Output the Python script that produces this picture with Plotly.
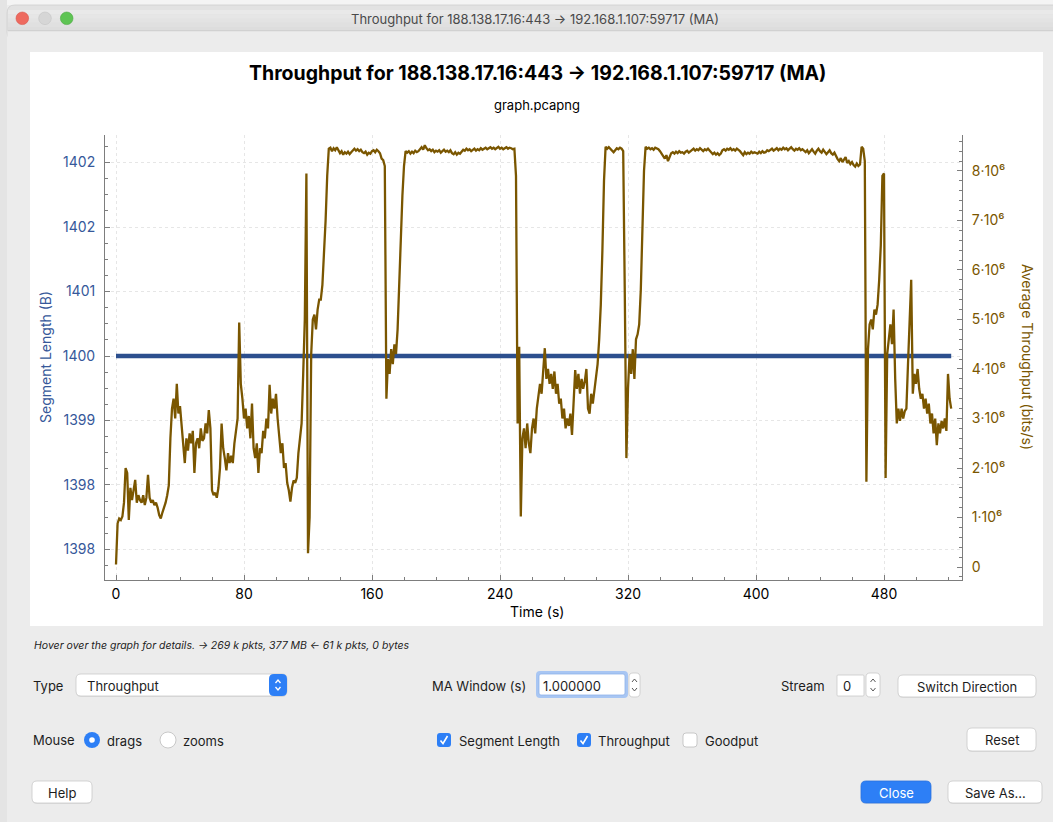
import plotly.graph_objects as go

# ---------------------------------------------------------------------------
# Data: moving-average throughput (Mbit/s, one sample per second) and
# segment length (bytes) for the TCP stream 188.138.17.16:443 -> 192.168.1.107:59717
# ---------------------------------------------------------------------------
time_s = list(range(0, 523))

throughput_mbps = [
    0.05, 0.88, 0.98, 0.95, 1.02, 1.30, 2.00, 1.90, 0.95, 1.60,
    1.35, 1.55, 1.76, 1.30, 1.45, 1.35, 1.30, 1.45, 1.25, 1.40,
    1.86, 1.40, 1.30, 1.35, 1.25, 1.30, 1.20, 1.05, 0.98, 1.10,
    1.20, 1.30, 1.45, 1.65, 2.60, 3.20, 3.40, 3.00, 3.70, 3.10,
    3.25, 2.90, 2.40, 2.10, 2.60, 2.35, 2.70, 2.50, 2.75, 1.90,
    2.50, 2.60, 2.40, 2.80, 2.55, 2.60, 2.90, 2.70, 3.17, 2.80,
    1.55, 1.45, 1.50, 1.40, 1.60, 2.00, 2.90, 2.40, 2.20, 1.95,
    2.30, 2.10, 2.25, 2.10, 2.50, 2.77, 3.00, 4.94, 3.70, 3.40,
    3.00, 3.20, 2.80, 3.05, 2.60, 3.30, 2.40, 2.20, 2.50, 1.90,
    2.40, 2.30, 2.75, 2.60, 3.00, 2.80, 3.68, 3.10, 3.40, 3.20,
    3.50, 3.00, 2.60, 2.30, 2.50, 2.00, 2.10, 1.70, 1.55, 1.32,
    1.60, 1.75, 1.70, 1.80, 2.30, 2.60, 2.90, 3.90, 5.00, 7.95,
    0.28, 1.00, 4.30, 5.00, 5.10, 4.80, 5.20, 5.40, 5.40, 5.70,
    6.30, 7.00, 7.90, 8.45, 8.47, 8.40, 8.46, 8.42, 8.48, 8.41,
    8.36, 8.40, 8.33, 8.38, 8.35, 8.39, 8.34, 8.38, 8.42, 8.45,
    8.41, 8.44, 8.40, 8.43, 8.38, 8.36, 8.39, 8.33, 8.37, 8.35,
    8.40, 8.42, 8.38, 8.43, 8.40, 8.36, 8.25, 8.22, 8.10, 3.40,
    4.20, 3.90, 4.40, 4.10, 4.50, 4.30, 4.80, 5.90, 6.60, 7.50,
    8.10, 8.40, 8.37, 8.40, 8.35, 8.39, 8.36, 8.41, 8.38, 8.40,
    8.45, 8.48, 8.43, 8.52, 8.46, 8.42, 8.44, 8.40, 8.43, 8.38,
    8.41, 8.39, 8.42, 8.37, 8.40, 8.43, 8.39, 8.41, 8.38, 8.42,
    8.36, 8.34, 8.38, 8.33, 8.37, 8.35, 8.39, 8.43, 8.41, 8.45,
    8.42, 8.44, 8.40, 8.43, 8.45, 8.41, 8.44, 8.42, 8.46, 8.43,
    8.45, 8.47, 8.44, 8.46, 8.48, 8.45, 8.47, 8.44, 8.46, 8.49,
    8.45, 8.47, 8.44, 8.46, 8.48, 8.45, 8.47, 8.46, 8.44, 8.45,
    7.90, 2.90, 4.45, 1.02, 2.60, 2.80, 2.40, 2.90, 2.50, 2.30,
    2.80, 3.00, 2.70, 3.20, 3.50, 3.70, 3.50, 4.00, 4.42, 3.80,
    4.00, 3.70, 3.90, 3.60, 3.95, 3.50, 3.70, 3.30, 3.40, 3.00,
    3.20, 2.80, 3.00, 2.85, 3.10, 2.67, 3.30, 3.98, 3.60, 3.90,
    3.50, 3.80, 3.60, 3.75, 4.00, 3.20, 3.10, 3.50, 3.30, 3.60,
    3.80, 4.10, 4.60, 5.30, 6.40, 7.80, 8.49, 8.45, 8.48, 8.44,
    8.40, 8.38, 8.42, 8.46, 8.44, 8.47, 8.45, 8.40, 5.50, 2.20,
    3.60, 4.30, 3.90, 4.40, 3.80, 4.60, 4.70, 4.90, 5.60, 7.00,
    8.00, 8.49, 8.45, 8.47, 8.44, 8.46, 8.43, 8.47, 8.45, 8.44,
    8.40, 8.35, 8.30, 8.25, 8.32, 8.20, 8.28, 8.36, 8.38, 8.35,
    8.39, 8.36, 8.40, 8.37, 8.38, 8.35, 8.39, 8.41, 8.37, 8.40,
    8.43, 8.45, 8.41, 8.44, 8.42, 8.46, 8.43, 8.40, 8.44, 8.42,
    8.45, 8.41, 8.38, 8.34, 8.37, 8.33, 8.36, 8.32, 8.35, 8.42,
    8.44, 8.41, 8.45, 8.43, 8.46, 8.42, 8.44, 8.41, 8.45, 8.43,
    8.40, 8.36, 8.32, 8.38, 8.34, 8.37, 8.35, 8.39, 8.36, 8.38,
    8.37, 8.35, 8.39, 8.36, 8.40, 8.37, 8.38, 8.42, 8.40, 8.43,
    8.45, 8.41, 8.44, 8.46, 8.42, 8.45, 8.43, 8.47, 8.44, 8.46,
    8.42, 8.45, 8.48, 8.44, 8.41, 8.45, 8.43, 8.46, 8.42, 8.44,
    8.41, 8.38, 8.42, 8.36, 8.40, 8.44, 8.39, 8.35, 8.41, 8.45,
    8.40, 8.37, 8.43, 8.39, 8.34, 8.38, 8.42, 8.36, 8.33, 8.37,
    8.30, 8.24, 8.20, 8.26, 8.18, 8.22, 8.28, 8.16, 8.20, 8.14,
    8.18, 8.12, 8.09, 8.15, 8.10, 8.13, 8.49, 8.45, 8.20, 1.72,
    4.40, 4.90, 5.00, 4.80, 5.20, 5.10, 5.30, 5.80, 6.50, 7.90,
    7.95, 1.80, 4.30, 4.60, 4.90, 4.50, 5.20, 3.80, 2.90, 3.20,
    2.95, 3.20, 3.00, 3.15, 3.20, 4.10, 5.00, 5.80, 3.50, 3.90,
    3.70, 4.00, 3.60, 3.40, 3.50, 3.20, 3.40, 3.10, 3.30, 2.90,
    3.10, 2.70, 3.00, 2.46, 2.90, 2.70, 2.95, 2.80, 3.00, 2.75,
    3.90, 3.40, 3.20,
]
throughput_bps = [v * 1e6 for v in throughput_mbps]

segment_length = [1400] * len(time_s)

x_ticks = [0, 80, 160, 240, 320, 400, 480]
rate_ticks = [0, 1e6, 2e6, 3e6, 4e6, 5e6, 6e6, 7e6, 8e6]
rate_tick_text = ["0"] + [f"{int(v / 1e6)}·10⁶" for v in rate_ticks[1:]]

# ---------------------------------------------------------------------------
# Page geometry helpers (pixel -> paper fraction)
# ---------------------------------------------------------------------------
W, H = 1053, 822
FONT = "Inter, Roboto, 'Noto Sans', sans-serif"
SEG_BLUE = "#2c4f8e"
THR_BROWN = "#7a5600"
LABEL_BLUE = "#36589a"


def fx(x):
    return x / W


def fy(y):
    return 1 - y / H


def pt(x, y):
    return f"{fx(x):.5f},{fy(y):.5f}"


shapes = []
annotations = []


def rect(x0, y0, x1, y1, fill, line="rgba(0,0,0,0)", lw=0):
    shapes.append(dict(type="rect", xref="paper", yref="paper",
                       x0=fx(x0), x1=fx(x1), y0=fy(y1), y1=fy(y0),
                       fillcolor=fill, line=dict(color=line, width=lw),
                       layer="below"))


def rrect(x0, y0, x1, y1, r, fill, line="rgba(0,0,0,0)", lw=0, layer="above"):
    p = (f"M {pt(x0 + r, y0)} L {pt(x1 - r, y0)} Q {pt(x1, y0)} {pt(x1, y0 + r)} "
         f"L {pt(x1, y1 - r)} Q {pt(x1, y1)} {pt(x1 - r, y1)} "
         f"L {pt(x0 + r, y1)} Q {pt(x0, y1)} {pt(x0, y1 - r)} "
         f"L {pt(x0, y0 + r)} Q {pt(x0, y0)} {pt(x0 + r, y0)} Z")
    shapes.append(dict(type="path", xref="paper", yref="paper", path=p,
                       fillcolor=fill, line=dict(color=line, width=lw), layer=layer))


def circle(cx, cy, r, fill, line="rgba(0,0,0,0)", lw=0):
    shapes.append(dict(type="circle", xref="paper", yref="paper",
                       x0=fx(cx - r), x1=fx(cx + r), y0=fy(cy + r), y1=fy(cy - r),
                       fillcolor=fill, line=dict(color=line, width=lw), layer="above"))


def polyline(points, color, lw):
    p = "M " + " L ".join(pt(x, y) for x, y in points)
    shapes.append(dict(type="path", xref="paper", yref="paper", path=p,
                       line=dict(color=color, width=lw), layer="above"))


def text(x, y, s, size=13, color="#1d1d1d", anchor="left", **kw):
    annotations.append(dict(xref="paper", yref="paper", x=fx(x), y=fy(y),
                            text=s, showarrow=False, xanchor=anchor,
                            yanchor="middle",
                            font=dict(family=FONT, size=size, color=color), **kw))


def button(x0, y0, x1, y1, label, fill="#ffffff", fcolor="#1d1d1d", border="#c9c9c9"):
    rrect(x0, y0 + 1, x1, y1 + 1, 5, "rgba(0,0,0,0.06)")
    rrect(x0, y0, x1, y1, 5, fill, border, 0.8)
    text((x0 + x1) / 2, (y0 + y1) / 2 + 0.5, label, 13, fcolor, anchor="center")


def stepper(x0, y0, x1, y1):
    rrect(x0, y0, x1, y1, 4, "#ffffff", "#c9c9c9", 0.8)
    cx = (x0 + x1) / 2
    my = (y0 + y1) / 2
    polyline([(cx - 2.5, my - 3), (cx, my - 6), (cx + 2.5, my - 3)], "#555555", 1)
    polyline([(cx - 2.5, my + 3), (cx, my + 6), (cx + 2.5, my + 3)], "#555555", 1)


def checkbox(cx, cy, checked):
    if checked:
        rrect(cx - 7, cy - 7, cx + 7, cy + 7, 3, "#2d7ff6")
        polyline([(cx - 3.5, cy + 0.5), (cx - 1, cy + 3.5), (cx + 3.5, cy - 4)], "#ffffff", 1.6)
    else:
        rrect(cx - 7, cy - 7, cx + 7, cy + 7, 3, "#ffffff", "#bdbdbd", 0.8)


# ---------------------------------------------------------------------------
# Window chrome
# ---------------------------------------------------------------------------
rect(0, 0, W, H, "#ececec")
rect(0, 0, W, 5, "#f4f4f4")
rect(0, 0, 7, H, "#e4e4e4")
rrect(7, 5, W + 10, 40, 8, "#e2e2e2", "#cfcfcf", 0.8, layer="below")
rect(7.5, 31, W, H, "#ececec")
# title bar bands (soft vertical gradient)
for i, c in enumerate(["#e9e9e9", "#e6e6e6", "#e3e3e3", "#e0e0e0", "#dddddd"]):
    rect(8, 10 + i * 4.2, W, 14.2 + i * 4.2, c)
rect(8, 30.2, W, 31.2, "#cdcdcd")
circle(22.3, 18.3, 6.3, "#ee6a5f", "#d9574d", 0.6)
circle(45, 18.3, 6.3, "#d6d6d6", "#c4c4c4", 0.6)
circle(66.7, 18.3, 6.3, "#5ec453", "#4ca842", 0.6)
text(535, 18.5, "Throughput for 188.138.17.16:443 → 192.168.1.107:59717 (MA)",
     13, "#4a4a4a", anchor="center")

# white graph panel
rect(30, 52, 1043, 626, "#ffffff")

# graph title / subtitle
text(537, 73, "<b>Throughput for 188.138.17.16:443 → 192.168.1.107:59717 (MA)</b>",
     19.5, "#000000", anchor="center")
text(537, 105, "graph.pcapng", 13, "#000000", anchor="center")

# axis titles
text(537, 611, "Time (s)", 14, "#000000", anchor="center")
text(45, 357, "Segment Length (B)", 14, LABEL_BLUE, anchor="center", textangle=-90)
text(1028, 357, "Average Throughput (bits/s)", 14, THR_BROWN, anchor="center", textangle=90)

# status line
text(32, 645, "<i>Hover over the graph for details. → 269 k pkts, 377 MB ← 61 k pkts, 0 bytes</i>",
     10.5, "#1d1d1d")

# row 1: type / MA window / stream
text(31, 686, "Type", 13)
rrect(76, 675, 287, 697, 5, "rgba(0,0,0,0.06)")
rrect(76, 674, 287, 696, 5, "#ffffff", "#c9c9c9", 0.8)
rrect(269, 674, 287, 696, 5, "#2d7ff6")
rect(269, 674, 274, 696, "#2d7ff6")
polyline([(275.5, 683), (278, 680), (280.5, 683)], "#ffffff", 1.3)
polyline([(275.5, 687), (278, 690), (280.5, 687)], "#ffffff", 1.3)
text(85, 685.5, "Throughput", 13)

text(430, 686, "MA Window (s)", 13)
rrect(536, 671, 628, 698, 4, "#a8c6f3")
rrect(539, 674, 625, 695, 2, "#ffffff", "#8fb3ea", 0.8)
text(541, 685.5, "1.000000", 13)
stepper(629, 673, 640, 697)

text(779, 686, "Stream", 13)
rrect(837, 675, 864, 696, 1, "#ffffff", "#c9c9c9", 0.8)
text(841, 685.5, "0", 13)
stepper(866, 673, 880, 697)

button(898, 675, 1036, 697, "Switch Direction")

# row 2: mouse mode / series toggles / reset
text(31, 740, "Mouse", 13)
circle(92, 740, 8, "#2d7ff6")
circle(92, 740, 2.8, "#ffffff")
text(105, 741, "drags", 13)
circle(168, 740, 8, "#ffffff", "#bdbdbd", 0.8)
text(181, 741, "zooms", 13)

checkbox(444, 740, True)
text(457, 740.5, "Segment Length", 13)
checkbox(584, 740, True)
text(596, 740.5, "Throughput", 13)
checkbox(690, 740, False)
text(703, 740.5, "Goodput", 13)

button(967, 728, 1036, 751, "Reset")

# row 3: dialog buttons
button(32, 781, 92, 803, "Help")
button(861, 781, 931, 803, "Close", fill="#2d7ff6", fcolor="#ffffff", border="#2a72e0")
button(948, 781, 1042, 803, "Save As...")

# ---------------------------------------------------------------------------
# Traces
# ---------------------------------------------------------------------------
fig = go.Figure()
fig.add_trace(go.Scatter(
    x=time_s, y=segment_length, mode="lines", name="Segment Length",
    line=dict(color=SEG_BLUE, width=4.5), yaxis="y",
))
fig.add_trace(go.Scatter(
    x=time_s, y=throughput_bps, mode="lines", name="Throughput",
    line=dict(color=THR_BROWN, width=2.3), yaxis="y2",
))

# plot area: x 105..962 px, y 135..580 px
x_dom = [fx(105), fx(962)]
y_dom = [fy(580), fy(135)]

axis_line = "#7d7d7d"
grid = dict(gridcolor="#e6e6e6", griddash="dot", gridwidth=1)

fig.update_layout(
    width=W, height=H,
    margin=dict(l=0, r=0, t=0, b=0),
    paper_bgcolor="#ececec",
    plot_bgcolor="#ffffff",
    showlegend=False,
    shapes=shapes,
    annotations=annotations,
    xaxis=dict(
        domain=x_dom, range=[-6.875, 528.75],
        tickmode="array", tickvals=x_ticks,
        ticks="inside", ticklen=5, tickcolor=axis_line,
        showline=True, linecolor=axis_line, linewidth=1,
        showgrid=True, zeroline=False, **grid,
        tickfont=dict(family=FONT, size=14, color="#000000"),
        ticklabelstandoff=1,
        minor=dict(tickmode="linear", tick0=0, dtick=20, ticks="inside",
                   ticklen=3, tickcolor=axis_line, showgrid=False),
        automargin=False, fixedrange=True,
    ),
    yaxis=dict(
        domain=y_dom, range=[1397.221, 1402.742],
        tickmode="linear", tick0=1400, dtick=0.8, tickformat=".0f",
        ticks="inside", ticklen=5, tickcolor=axis_line,
        showline=True, linecolor=axis_line, linewidth=1,
        showgrid=True, zeroline=False, **grid,
        tickfont=dict(family=FONT, size=14, color=LABEL_BLUE),
        ticklabelstandoff=6,
        minor=dict(tickmode="linear", tick0=1400, dtick=0.2, ticks="inside",
                   ticklen=3, tickcolor=axis_line, showgrid=False),
        automargin=False, fixedrange=True,
    ),
    yaxis2=dict(
        overlaying="y", side="right", anchor="x",
        range=[-0.2626e6, 8.727e6],
        tickmode="array", tickvals=rate_ticks, ticktext=rate_tick_text,
        ticks="inside", ticklen=5, tickcolor=axis_line,
        showline=True, linecolor=axis_line, linewidth=1,
        showgrid=False, zeroline=False,
        tickfont=dict(family=FONT, size=14, color=THR_BROWN),
        ticklabelstandoff=6,
        minor=dict(tickmode="linear", tick0=0, dtick=2e5, ticks="inside",
                   ticklen=3, tickcolor=axis_line, showgrid=False),
        automargin=False, fixedrange=True,
    ),
)

fig.write_html("out.html")
